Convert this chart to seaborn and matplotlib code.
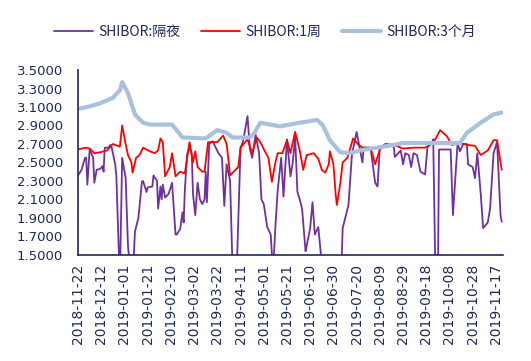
import pandas as pd
import numpy as np
import matplotlib
matplotlib.use("Agg")
import matplotlib.pyplot as plt
import matplotlib.dates as mdates
import seaborn as sns

start = pd.Timestamp("2018-11-22")

# day offsets from 2018-11-22 and rates
ovn_day = [0, 3, 6, 7, 8, 10, 13, 14, 16, 19, 21, 22, 23, 26, 28, 29, 32, 33, 36, 38,
           41, 43, 46, 47, 49, 52, 55, 56, 59, 60, 64, 65, 68, 69, 71, 72, 73, 75, 78, 81,
           84, 85, 88, 90, 91, 92, 94, 96, 98, 99, 101, 103, 105, 107, 109, 110, 111, 113, 116, 119,
           121, 124, 126, 128, 131, 133, 135, 137, 140, 142, 146, 148, 150, 153, 156, 158, 160, 163, 166, 168,
           170, 172, 175, 177, 180, 183, 185, 187, 189, 191, 193, 196, 197, 200, 202, 203, 204, 207, 210, 215,
           222, 227, 228, 233, 236, 240, 242, 245, 246, 252, 256, 258, 260, 265, 272, 273, 278, 280, 282, 285,
           287, 289, 292, 295, 299, 301, 303, 305, 306, 308, 310, 311, 321, 323, 327, 329, 332, 335, 336, 340,
           342, 344, 347, 349, 353, 355, 358, 361, 364, 365]
ovn_val = [2.36, 2.42, 2.55, 2.55, 2.26, 2.64, 2.55, 2.28, 2.42, 2.43, 2.46, 2.40, 2.66, 2.66, 2.69, 2.66, 2.48, 2.35, 1.20, 2.55,
           2.33, 1.60, 1.20, 1.20, 1.75, 1.90, 2.29, 2.30, 2.18, 2.23, 2.24, 2.36, 2.30, 2.00, 2.24, 2.10, 2.26, 2.12, 2.16, 2.28,
           1.72, 1.72, 1.78, 1.96, 1.85, 2.20, 2.59, 2.65, 2.60, 2.16, 1.93, 2.28, 2.10, 2.05, 2.10, 2.40, 2.07, 2.70, 2.73, 2.65,
           2.60, 2.55, 2.03, 2.48, 2.30, 1.40, 1.30, 1.45, 2.66, 2.72, 3.00, 2.65, 2.55, 2.80, 2.60, 2.10, 2.05, 1.80, 1.72, 1.30,
           1.80, 2.20, 2.55, 2.13, 2.75, 2.35, 2.50, 2.78, 2.18, 2.10, 2.00, 1.54, 1.60, 1.79, 2.07, 1.90, 1.72, 1.80, 1.40, 1.20,
           1.20, 1.40, 1.79, 2.04, 2.59, 2.83, 2.70, 2.50, 2.66, 2.66, 2.28, 2.24, 2.66, 2.70, 2.67, 2.56, 2.63, 2.48, 2.60, 2.58,
           2.45, 2.60, 2.58, 2.40, 2.37, 2.66, 2.70, 2.72, 2.75, 1.20, 1.20, 2.64, 2.64, 1.93, 2.71, 2.62, 2.70, 2.70, 2.48, 2.45,
           2.33, 2.60, 2.15, 1.79, 1.85, 2.00, 2.60, 2.72, 1.93, 1.86]

w1_day = [0, 3, 7, 10, 14, 19, 25, 30, 34, 36, 38, 41, 43, 46, 47, 50, 53, 56, 62, 66,
          69, 71, 73, 75, 79, 81, 84, 88, 92, 96, 99, 101, 103, 107, 109, 112, 116, 120, 125, 128,
          131, 138, 140, 146, 150, 154, 157, 161, 164, 167, 170, 172, 176, 180, 183, 187, 191, 194, 197, 203,
          207, 210, 213, 216, 217, 220, 222, 223, 226, 228, 232, 237, 241, 245, 252, 256, 260, 265, 272, 280,
          289, 299, 306, 312, 318, 322, 329, 335, 342, 347, 353, 358, 361, 364, 365]
w1_val = [2.64, 2.65, 2.66, 2.65, 2.60, 2.61, 2.63, 2.70, 2.68, 2.67, 2.90, 2.70, 2.58, 2.50, 2.39, 2.55, 2.58, 2.66, 2.62, 2.60,
          2.63, 2.76, 2.72, 2.35, 2.45, 2.60, 2.35, 2.40, 2.38, 2.72, 2.50, 2.62, 2.45, 2.40, 2.40, 2.72, 2.72, 2.72, 2.79, 2.70,
          2.36, 2.45, 2.66, 2.75, 2.60, 2.77, 2.72, 2.62, 2.55, 2.29, 2.50, 2.60, 2.60, 2.74, 2.60, 2.83, 2.63, 2.42, 2.58, 2.60,
          2.54, 2.42, 2.39, 2.48, 2.62, 2.48, 2.15, 2.04, 2.28, 2.50, 2.55, 2.76, 2.70, 2.66, 2.66, 2.48, 2.64, 2.70, 2.69, 2.65,
          2.66, 2.66, 2.71, 2.85, 2.78, 2.69, 2.71, 2.69, 2.68, 2.58, 2.63, 2.74, 2.74, 2.50, 2.42]

m3_day = [0, 8, 19, 30, 36, 38, 43, 49, 56, 62, 81, 90, 110, 120, 128, 133, 148, 152, 157, 174,
          191, 206, 211, 217, 226, 234, 243, 272, 280, 329, 335, 347, 358, 365]
m3_val = [3.08, 3.10, 3.14, 3.20, 3.28, 3.37, 3.25, 3.02, 2.93, 2.91, 2.91, 2.77, 2.76, 2.85, 2.82, 2.77, 2.77, 2.82, 2.93, 2.89,
          2.93, 2.96, 2.90, 2.74, 2.61, 2.60, 2.63, 2.69, 2.71, 2.71, 2.82, 2.93, 3.02, 3.04]

labels = ["SHIBOR:隔夜", "SHIBOR:1周", "SHIBOR:3个月"]
colors = ["#7030A0", "#FF0000", "#A9C0DE"]
widths = [1.3, 1.3, 3.0]

sns.set_style("white")
plt.rcParams["font.family"] = ["DejaVu Sans", "Noto Sans CJK SC"]
navy = "#1F2A5C"

fig = plt.figure(figsize=(5.31, 3.61), dpi=100)
ax = fig.add_axes([0.147, 0.294, 0.8, 0.512])

series = [(ovn_day, ovn_val), (w1_day, w1_val), (m3_day, m3_val)]
for (d, v), lab, c, lw in zip(series, labels, colors, widths):
    dates = start + pd.to_timedelta(d, unit="D")
    sns.lineplot(x=dates, y=v, ax=ax, color=c, linewidth=lw, label=lab)

ax.set_ylim(1.5, 3.5)
ax.set_yticks(np.arange(1.5, 3.51, 0.2))
ax.yaxis.set_major_formatter(matplotlib.ticker.FormatStrFormatter("%.4f"))
ax.set_xlim(start, start + pd.Timedelta(days=366))
ax.set_xticks(pd.date_range(start, periods=19, freq="20D"))
ax.xaxis.set_major_formatter(mdates.DateFormatter("%Y-%m-%d"))
plt.setp(ax.get_xticklabels(), rotation=90)
ax.set_xlabel("")
ax.set_ylabel("")

for s in ["top", "right"]:
    ax.spines[s].set_visible(False)
for s in ["left", "bottom"]:
    ax.spines[s].set_color(navy)
    ax.spines[s].set_linewidth(1.2)
ax.tick_params(axis="y", direction="out", length=6, color=navy, labelcolor=navy, labelsize=9.5, pad=5)
ax.tick_params(axis="x", direction="inout", length=7, color=navy, labelcolor=navy, labelsize=10, pad=3)
ax.grid(False)

ax.legend(loc="upper center", bbox_to_anchor=(0.44, 1.31), ncol=3, frameon=False,
          prop={"family": ["Noto Sans CJK SC", "DejaVu Sans"], "size": 10},
          labelcolor=navy, handlelength=2.8, columnspacing=1.5, handletextpad=0.4)

fig.savefig("out.png", dpi=100)
